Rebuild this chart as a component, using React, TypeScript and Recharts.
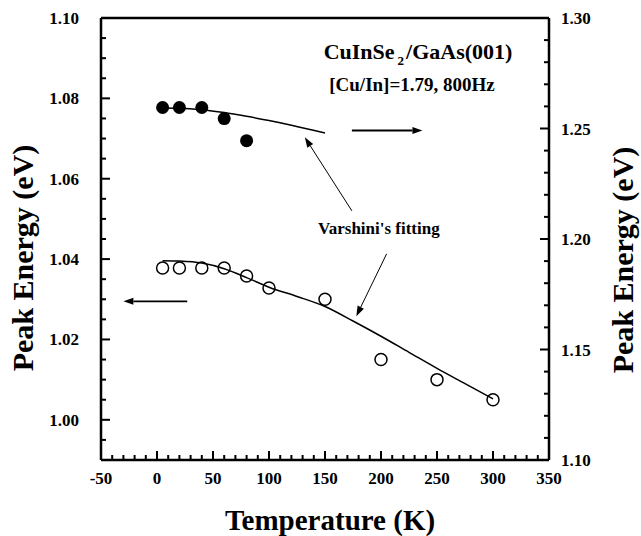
import React from 'react';
import { ComposedChart, Line, Scatter, XAxis, YAxis, ReferenceLine } from 'recharts';

const FONT = '"Liberation Serif", "Times New Roman", serif';

// Temperature (K) / peak energy (eV)
const filledTemp = [5, 20, 40, 60, 80];
const filledEnergy = [1.2595, 1.2595, 1.2595, 1.2545, 1.2445]; // right axis
const openTemp = [5, 20, 40, 60, 80, 100, 150, 200, 250, 300];
const openEnergy = [1.0378, 1.0378, 1.0378, 1.0378, 1.0358, 1.0328, 1.03, 1.015, 1.01, 1.005]; // left axis

// Varshni fits
const fitUpperTemp = [5, 20, 40, 60, 80, 100, 120, 150];
const fitUpperEnergy = [1.2593, 1.2592, 1.2585, 1.2572, 1.2555, 1.2536, 1.2515, 1.248];
const fitLowerTemp = [5, 20, 40, 60, 80, 100, 125, 150, 175, 200, 225, 250, 275, 300];
const fitLowerEnergy = [1.0396, 1.0395, 1.039, 1.0376, 1.0354, 1.033, 1.0307, 1.0282, 1.0246, 1.0208, 1.0168, 1.0128, 1.009, 1.0052];

// ticks
const xTicks = [-50, 0, 50, 100, 150, 200, 250, 300, 350];
const leftTicks = [1.0, 1.02, 1.04, 1.06, 1.08, 1.1];
const rightTicks = [1.1, 1.15, 1.2, 1.25, 1.3];

// annotation arrows, in (temperature, left-axis energy)
const arrowToRight = [{ x: 174, y: 1.072 }, { x: 237, y: 1.072 }];
const arrowToLeft = [{ x: 27, y: 1.0295 }, { x: -30, y: 1.0295 }];
const arrowUpperFit = [{ x: 174, y: 1.052 }, { x: 132, y: 1.0703 }];
const arrowLowerFit = [{ x: 205, y: 1.0413 }, { x: 178, y: 1.0258 }];

const zip = (ts: number[], es: number[]) => ts.map((t, i) => ({ t, e: es[i] }));

const steps = (from: number, to: number, step: number) => {
  const out: number[] = [];
  const n = Math.round((to - from) / step);
  for (let i = 0; i <= n; i++) out.push(+(from + i * step).toFixed(4));
  return out;
};

const isMajor = (v: number, majors: number[]) => majors.some((m) => Math.abs(m - v) < 1e-6);

const tickText = { fontFamily: FONT, fontWeight: 700, fontSize: 17, fill: '#000' };

const XTick = (p: any) => (
  <text x={p.x} y={p.y + 24} textAnchor="middle" {...tickText}>
    {p.payload.value}
  </text>
);
const LeftTick = (p: any) => (
  <text x={p.x - 22} y={p.y + 6} textAnchor="end" {...tickText}>
    {p.payload.value.toFixed(2)}
  </text>
);
const RightTick = (p: any) => (
  <text x={p.x + 12} y={p.y + 6} textAnchor="start" {...tickText}>
    {p.payload.value.toFixed(2)}
  </text>
);

// inward tick marks, drawn as segments through the library's scales
const markShape = (dx: number, dy: number) => (p: any) => (
  <line x1={p.x1} y1={p.y1} x2={p.x1 + dx} y2={p.y1 + dy} stroke="#000" strokeWidth={2} />
);

const arrowShape = (w: number) => (p: any) => {
  const { x1, y1, x2, y2 } = p;
  const a = Math.atan2(y2 - y1, x2 - x1);
  const L = 10;
  const W = 3.5;
  const bx = x2 - L * Math.cos(a);
  const by = y2 - L * Math.sin(a);
  const pts = `${x2},${y2} ${bx + W * Math.sin(a)},${by - W * Math.cos(a)} ${bx - W * Math.sin(a)},${by + W * Math.cos(a)}`;
  return (
    <g>
      <line x1={x1} y1={y1} x2={bx} y2={by} stroke="#000" strokeWidth={w} />
      <polygon points={pts} fill="#000" />
    </g>
  );
};

const xAll = steps(-40, 340, 10);
const leftAll = steps(0.995, 1.095, 0.005);
const rightAll = steps(1.11, 1.29, 0.01);

const App = () => {
  return (
    <div style={{ position: 'absolute', left: 0, top: 0, width: 641, height: 536, background: '#fff' }}>
      <ComposedChart width={641} height={536} margin={{ top: 18, right: 0, bottom: 0, left: 0 }}>
        <XAxis
          type="number"
          dataKey="t"
          domain={[-50, 350]}
          ticks={xTicks}
          interval={0}
          allowDataOverflow
          height={76}
          tickSize={0}
          tickMargin={0}
          tick={<XTick />}
          axisLine={{ stroke: '#000', strokeWidth: 2.5 }}
          tickLine={false}
        />
        <YAxis
          yAxisId="left"
          type="number"
          domain={[0.99, 1.1]}
          ticks={leftTicks}
          interval={0}
          allowDataOverflow
          width={101}
          tickSize={0}
          tickMargin={0}
          tick={<LeftTick />}
          axisLine={{ stroke: '#000', strokeWidth: 2.5 }}
          tickLine={false}
        />
        <YAxis
          yAxisId="right"
          orientation="right"
          type="number"
          domain={[1.1, 1.3]}
          ticks={rightTicks}
          interval={0}
          allowDataOverflow
          width={92}
          tickSize={0}
          tickMargin={0}
          tick={<RightTick />}
          axisLine={{ stroke: '#000', strokeWidth: 2.5 }}
          tickLine={false}
        />
        <ReferenceLine yAxisId="left" y={1.1} stroke="#000" strokeWidth={2.5} />

        {xAll.map((t) => (
          <ReferenceLine
            key={`xt${t}`}
            yAxisId="left"
            segment={[{ x: t, y: 0.99 }, { x: t, y: 1.0 }]}
            shape={markShape(0, isMajor(t, xTicks) ? -9 : -5)}
          />
        ))}
        {leftAll.map((v) => (
          <ReferenceLine
            key={`lt${v}`}
            yAxisId="left"
            segment={[{ x: -50, y: v }, { x: 0, y: v }]}
            shape={markShape(isMajor(v, leftTicks) ? 9 : 5, 0)}
          />
        ))}
        {rightAll.map((v) => (
          <ReferenceLine
            key={`rt${v}`}
            yAxisId="right"
            segment={[{ x: 350, y: v }, { x: 300, y: v }]}
            shape={markShape(isMajor(v, rightTicks) ? -9 : -5, 0)}
          />
        ))}

        <Line
          yAxisId="right"
          data={zip(fitUpperTemp, fitUpperEnergy)}
          dataKey="e"
          type="monotone"
          stroke="#000"
          strokeWidth={1.5}
          dot={false}
          isAnimationActive={false}
        />
        <Line
          yAxisId="left"
          data={zip(fitLowerTemp, fitLowerEnergy)}
          dataKey="e"
          type="monotone"
          stroke="#000"
          strokeWidth={1.5}
          dot={false}
          isAnimationActive={false}
        />
        <Scatter
          yAxisId="right"
          data={zip(filledTemp, filledEnergy)}
          dataKey="e"
          isAnimationActive={false}
          shape={(p: any) => <circle cx={p.cx} cy={p.cy} r={6.5} fill="#000" />}
        />
        <Scatter
          yAxisId="left"
          data={zip(openTemp, openEnergy)}
          dataKey="e"
          isAnimationActive={false}
          shape={(p: any) => <circle cx={p.cx} cy={p.cy} r={6} fill="none" stroke="#000" strokeWidth={1.5} />}
        />

        <ReferenceLine yAxisId="left" segment={arrowToRight} shape={arrowShape(1.8)} />
        <ReferenceLine yAxisId="left" segment={arrowToLeft} shape={arrowShape(1.8)} />
        <ReferenceLine yAxisId="left" segment={arrowUpperFit} shape={arrowShape(1)} />
        <ReferenceLine yAxisId="left" segment={arrowLowerFit} shape={arrowShape(1)} />
      </ComposedChart>

      <svg
        width={641}
        height={536}
        style={{ position: 'absolute', left: 0, top: 0, pointerEvents: 'none' }}
        fontFamily={FONT}
        fontWeight={700}
      >
        <text x={418} y={59} textAnchor="middle" fontSize={22}>
          CuInSe
          <tspan dx={3} dy={6} fontSize={13}>2</tspan>
          <tspan dx={2} dy={-6}>/GaAs(001)</tspan>
        </text>
        <text x={412} y={91} textAnchor="middle" fontSize={19}>
          [Cu/In]=1.79, 800Hz
        </text>
        <text x={318} y={234} textAnchor="start" fontSize={17}>
          Varshini's fitting
        </text>
        <text x={330} y={530} textAnchor="middle" fontSize={29}>
          Temperature (K)
        </text>
        <text x={33} y={258} textAnchor="middle" fontSize={30} transform="rotate(-90 33 258)">
          Peak Energy (eV)
        </text>
        <text x={633} y={260} textAnchor="middle" fontSize={30} transform="rotate(-90 633 260)">
          Peak Energy (eV)
        </text>
      </svg>
    </div>
  );
};

export default App;
